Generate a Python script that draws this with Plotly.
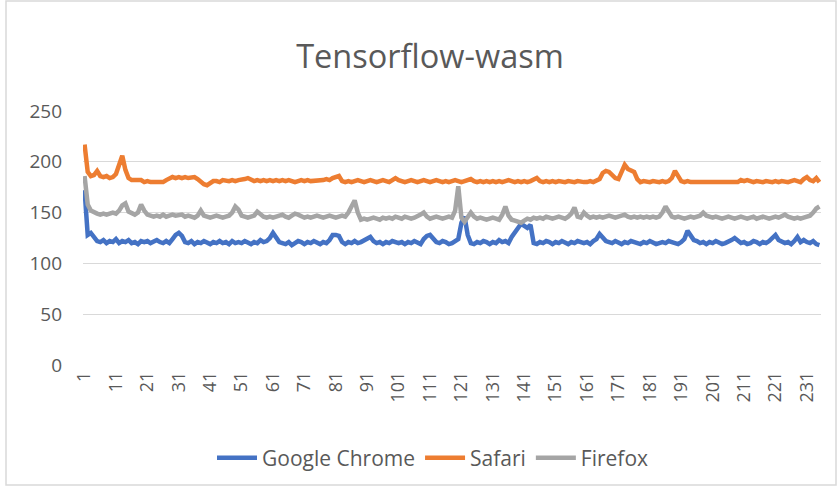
import plotly.graph_objects as go

chrome = [
    172, 128, 130, 126, 122, 121, 123, 120, 122, 121,
    124, 120, 122, 121, 123, 120, 121, 119, 122, 121,
    122, 120, 121, 123, 121, 120, 122, 120, 124, 128,
    130, 127, 121, 120, 122, 119, 121, 120, 122, 121,
    119, 121, 120, 122, 120, 121, 119, 122, 120, 121,
    120, 122, 121, 119, 121, 120, 123, 121, 122, 125,
    130, 126, 121, 120, 119, 121, 118, 120, 122, 121,
    119, 121, 120, 122, 121, 119, 121, 120, 123, 128,
    128, 127, 121, 119, 121, 120, 122, 120, 121, 123,
    124, 126, 122, 120, 121, 119, 121, 120, 122, 121,
    120, 121, 119, 121, 120, 122, 121, 119, 124, 127,
    128, 124, 121, 120, 122, 121, 119, 120, 122, 124,
    140, 146, 128, 120, 119, 121, 120, 122, 121, 119,
    121, 120, 123, 121, 122, 120, 126, 131, 136, 139,
    137, 135, 138, 120, 119, 121, 120, 122, 121, 119,
    121, 120, 122, 121, 119, 121, 120, 122, 121, 120,
    121, 119, 122, 124, 129, 126, 122, 121, 120, 122,
    121, 119, 121, 120, 122, 121, 120, 119, 121, 120,
    122, 121, 119, 120, 121, 120, 122, 121, 120, 119,
    121, 124, 132, 127, 123, 122, 120, 121, 119, 121,
    120, 122, 121, 119, 120, 121, 123, 125, 122, 120,
    121, 119, 120, 122, 121, 119, 121, 120, 122, 125,
    128, 123, 121, 120, 121, 119, 122, 126, 121, 123,
    121, 120, 122, 119, 118,
]

safari = [
    217, 190, 186, 187, 191, 186, 185, 186, 184, 185,
    188, 197, 206, 192, 184, 182, 182, 181, 182, 180,
    181, 180, 180, 181, 180, 180, 182, 184, 185, 184,
    185, 184, 185, 184, 185, 185, 183, 180, 178, 177,
    179, 181, 181, 180, 182, 181, 181, 182, 181, 182,
    182, 183, 184, 182, 181, 182, 181, 182, 181, 182,
    181, 182, 181, 182, 181, 182, 181, 180, 181, 182,
    181, 182, 181, 181, 182, 181, 182, 183, 182, 184,
    185, 186, 181, 180, 181, 180, 181, 182, 181, 180,
    181, 182, 181, 180, 181, 182, 181, 180, 182, 184,
    182, 181, 180, 181, 182, 181, 180, 181, 182, 181,
    180, 181, 182, 181, 180, 181, 180, 181, 182, 181,
    180, 181, 182, 183, 181, 180, 181, 180, 181, 180,
    181, 180, 181, 180, 181, 182, 181, 180, 181, 180,
    181, 180, 181, 182, 184, 181, 180, 181, 180, 181,
    180, 181, 180, 180, 181, 180, 180, 181, 180, 180,
    180, 181, 180, 181, 183, 189, 191, 190, 187, 184,
    183, 190, 197, 193, 191, 190, 183, 180, 181, 180,
    180, 181, 180, 180, 181, 180, 181, 184, 191, 186,
    181, 180, 181, 180, 180, 181, 180, 180, 181, 180,
    180, 181, 180, 180, 181, 180, 180, 181, 180, 182,
    181, 182, 181, 180, 181, 180, 180, 181, 180, 180,
    181, 180, 181, 180, 180, 181, 182, 181, 180, 183,
    185, 182, 181, 184, 180,
]

firefox = [
    186, 158, 152, 150, 149, 148, 149, 148, 149, 150,
    149, 152, 157, 159, 151, 149, 148, 150, 158, 152,
    148, 147, 146, 147, 146, 148, 146, 147, 148, 147,
    147, 148, 146, 147, 146, 145, 147, 152, 147, 146,
    145, 146, 147, 146, 145, 146, 147, 150, 156, 153,
    147, 146, 145, 146, 147, 151, 148, 146, 145, 146,
    145, 146, 147, 148, 146, 145, 147, 149, 148, 146,
    145, 146, 145, 146, 147, 146, 145, 146, 147, 146,
    145, 146, 147, 146, 150, 156, 162, 150, 143, 144,
    143, 144, 145, 144, 143, 145, 144, 145, 144, 146,
    145, 144, 146, 145, 144, 145, 146, 148, 150, 146,
    144, 145, 146, 145, 144, 145, 146, 145, 152, 176,
    145, 141, 146, 150, 146, 144, 145, 144, 143, 144,
    145, 144, 143, 148, 156, 147, 143, 142, 141, 140,
    142, 144, 143, 145, 144, 145, 144, 146, 145, 144,
    145, 146, 145, 144, 146, 149, 155, 146, 145, 150,
    147, 145, 146, 145, 146, 145, 146, 147, 146, 145,
    146, 147, 148, 146, 145, 146, 145, 146, 145, 146,
    145, 146, 145, 146, 150, 156, 150, 146, 145, 146,
    145, 144, 145, 146, 145, 146, 147, 150, 147, 146,
    145, 146, 145, 144, 145, 146, 145, 144, 145, 146,
    145, 144, 145, 146, 144, 145, 146, 145, 144, 145,
    146, 145, 146, 148, 146, 145, 144, 145, 144, 145,
    146, 147, 150, 154, 156,
]

categories = list(range(1, len(chrome) + 1))
x_ticks = list(range(1, len(chrome) + 1, 10))
y_ticks = [0, 50, 100, 150, 200, 250]

series = [
    ("Google Chrome", chrome, "#4472C4"),
    ("Safari", safari, "#ED7D31"),
    ("Firefox", firefox, "#A5A5A5"),
]

FONT = "Open Sans"
TXT = "#595959"

fig = go.Figure()
for name, vals, col in series:
    fig.add_trace(go.Scatter(
        x=categories, y=vals, name=name, mode="lines",
        line=dict(color=col, width=4.5, shape="linear"),
    ))

W, H = 839, 487
L, R, T, B = 83, 18, 111, 122
pw, ph = W - L - R, H - T - B

fig.update_layout(
    width=W, height=H,
    margin=dict(l=L, r=R, t=T, b=B, autoexpand=False),
    paper_bgcolor="white", plot_bgcolor="white",
    title=dict(text="Tensorflow-wasm", x=(430 / W), xanchor="center",
               y=1 - 57 / H, yanchor="middle",
               font=dict(family=FONT, size=32.5, color=TXT)),
    font=dict(family=FONT, color=TXT),
    showlegend=True,
    legend=dict(orientation="h", x=(433 - L) / pw, xanchor="center",
                y=-(458 - (H - B)) / ph, yanchor="middle",
                font=dict(family=FONT, size=21, color=TXT),
                itemwidth=40, traceorder="normal"),
    xaxis=dict(type="linear", range=[0.5, len(chrome) + 0.5],
               tickmode="array", tickvals=x_ticks,
               ticktext=[str(v) for v in x_ticks],
               tickangle=-90, showgrid=False, zeroline=False,
               showline=False, ticks="", automargin=False,
               ticklabelstandoff=2,
               tickfont=dict(family=FONT, size=18, color=TXT)),
    yaxis=dict(range=[0, 250], tickmode="array", tickvals=y_ticks,
               showgrid=True, gridcolor="#D9D9D9", gridwidth=1,
               zeroline=False, showline=False, ticks="", automargin=False,
               ticklabelstandoff=20,
               tickfont=dict(family=FONT, size=19, color=TXT)),
    shapes=[dict(type="rect", xref="paper", yref="paper",
                 x0=(6 - L) / pw, x1=(836 - L) / pw,
                 y0=-(485 - (H - B)) / ph, y1=((H - B) - 1) / ph,
                 line=dict(color="#D9D9D9", width=1.5),
                 fillcolor="rgba(0,0,0,0)", layer="below")],
)

fig.write_html(
    "out.html",
    config={"displayModeBar": False},
    post_script="document.body.style.margin='0px';document.body.style.overflow='hidden';",
)
